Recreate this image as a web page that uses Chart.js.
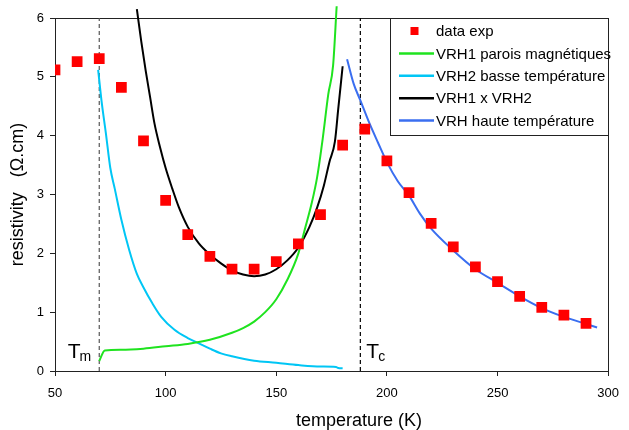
<!DOCTYPE html>
<html>
<head>
<meta charset="utf-8">
<script src="https://cdn.jsdelivr.net/npm/chart.js@4"></script>
<style>
  body { margin: 0; background: #fff; }
</style>
</head>
<body>
<canvas id="resistivityChart" width="629" height="430"></canvas>
<script>
// experimental points (red squares)
const expTemps = [50, 60, 70, 80, 90, 100, 110, 120, 130, 140, 150, 160, 170, 180, 190, 200, 210, 220, 230, 240, 250, 260, 270, 280, 290];
const expRho = [5.12, 5.26, 5.31, 4.82, 3.91, 2.9, 2.32, 1.95, 1.73, 1.73, 1.86, 2.16, 2.66, 3.84, 4.11, 3.57, 3.03, 2.51, 2.11, 1.77, 1.52, 1.27, 1.08, 0.95, 0.81];

// VRH1 parois magnétiques
const wallTemps = [70, 72.5, 80, 90, 100, 110, 120, 130, 135, 140, 145, 150, 155, 160, 163, 166, 168.5, 171, 173.5, 175.7, 177.3];
const wallRho = [0.17, 0.35, 0.36, 0.38, 0.42, 0.46, 0.53, 0.65, 0.73, 0.84, 1.0, 1.22, 1.55, 2.0, 2.42, 2.85, 3.3, 3.95, 4.7, 5.2, 6.2];

// VRH2 basse température
const lowTemps = [69.5, 71, 73, 75, 77, 80, 83.5, 87, 90, 94, 98, 104, 110, 115, 120, 125, 130, 140, 150, 160, 170, 177, 178, 180];
const lowRho = [5.12, 4.6, 4.04, 3.45, 3.1, 2.57, 2.06, 1.65, 1.42, 1.15, 0.92, 0.7, 0.56, 0.47, 0.38, 0.3, 0.25, 0.175, 0.14, 0.1, 0.075, 0.07, 0.05, 0.045];

// VRH1 x VRH2
const prodTemps = [87, 89, 91, 93, 95, 97.5, 100, 103, 106, 110, 115, 120, 125, 130, 135, 140, 145, 150, 155, 160, 165, 168.5, 171.5, 174, 176.5, 178, 180];
const prodRho = [6.15, 5.6, 5.1, 4.65, 4.2, 3.8, 3.45, 3.1, 2.78, 2.45, 2.17, 1.98, 1.83, 1.71, 1.64, 1.61, 1.64, 1.73, 1.88, 2.1, 2.45, 2.78, 3.15, 3.55, 3.9, 4.45, 5.18];

// VRH haute température
const highTemps = [182, 185, 188, 192, 196, 200, 205, 210, 215, 220, 230, 240, 250, 260, 270, 280, 290, 295];
const highRho = [5.3, 4.88, 4.6, 4.22, 3.88, 3.55, 3.22, 2.98, 2.67, 2.42, 2.05, 1.73, 1.5, 1.27, 1.07, 0.92, 0.8, 0.74];

// transition temperatures
const transTemps = [70, 188];
const transSubs = ["m", "c"];

const FONT = "'Liberation Sans', Arial, sans-serif";

function pts(xs, ys) {
    return xs.map((x, i) => ({ x: x, y: ys[i] }));
}

function curve(label, xs, ys, color) {
    return {
        label: label,
        data: pts(xs, ys),
        showLine: true,
        borderColor: color,
        backgroundColor: color,
        borderWidth: 2,
        pointRadius: 0,
        cubicInterpolationMode: "monotone",
        clip: false
    };
}

function dashed(t, color) {
    return {
        label: "",
        data: [{ x: t, y: 0 }, { x: t, y: 6 }],
        showLine: true,
        borderColor: color,
        borderWidth: 1.2,
        borderDash: [4, 3],
        pointRadius: 0,
        inLegend: false
    };
}

// plot frame, T labels, x title and boxed legend
const decorations = {
    id: "decorations",
    beforeDatasetsDraw(chart) {
        const ctx = chart.ctx;
        const a = chart.chartArea;
        ctx.save();
        ctx.strokeStyle = "#222";
        ctx.lineWidth = 1;
        ctx.strokeRect(Math.round(a.left) + 0.5, Math.round(a.top) + 0.5,
            Math.round(a.right - a.left), Math.round(a.bottom - a.top));
        ctx.restore();
    },
    afterDraw(chart) {
        const ctx = chart.ctx;
        const a = chart.chartArea;
        const xs = chart.scales.x;
        ctx.save();
        ctx.fillStyle = "#000";
        ctx.textBaseline = "alphabetic";

        // T_m / T_c
        transTemps.forEach((t, i) => {
            const px = xs.getPixelForValue(t);
            const base = a.bottom - 13;
            if (i === 0) {
                ctx.font = "14px " + FONT;
                const sw = ctx.measureText(transSubs[i]).width;
                ctx.textAlign = "right";
                ctx.fillText(transSubs[i], px - 8, base + 3);
                ctx.font = "21px " + FONT;
                ctx.fillText("T", px - 8 - sw + 1, base);
            } else {
                ctx.font = "21px " + FONT;
                ctx.textAlign = "left";
                const tw = ctx.measureText("T").width;
                ctx.fillText("T", px + 6, base);
                ctx.font = "14px " + FONT;
                ctx.fillText(transSubs[i], px + 6 + tw - 1, base + 3);
            }
        });

        // x axis title
        ctx.font = "18px " + FONT;
        ctx.textAlign = "center";
        ctx.textBaseline = "middle";
        ctx.fillText("temperature (K)", 359, 421);

        // legend box
        const left = 390, top = a.top, w = a.right - left, h = 117;
        ctx.fillStyle = "#fff";
        ctx.fillRect(left, top, w, h);
        ctx.strokeStyle = "#222";
        ctx.lineWidth = 1;
        ctx.strokeRect(left + 0.5, Math.round(top) + 0.5, Math.round(w), h);

        const items = chart.data.datasets.filter(d => d.inLegend !== false);
        ctx.font = "15px " + FONT;
        ctx.textAlign = "left";
        items.forEach((d, i) => {
            const y = top + 13 + i * 22.4;
            if (d.showLine) {
                ctx.strokeStyle = d.borderColor;
                ctx.lineWidth = 2.5;
                ctx.beginPath();
                ctx.moveTo(399, y);
                ctx.lineTo(434, y);
                ctx.stroke();
            } else {
                ctx.fillStyle = d.backgroundColor;
                ctx.fillRect(410.5, y - 4, 8, 8);
            }
            ctx.fillStyle = "#000";
            ctx.fillText(d.label, 436, y + 1);
        });
        ctx.restore();
    }
};

new Chart(document.getElementById("resistivityChart"), {
    type: "scatter",
    data: {
        datasets: [
            {
                label: "data exp",
                data: pts(expTemps, expRho),
                pointStyle: "rect",
                pointRadius: 7.6,
                pointBorderWidth: 0,
                backgroundColor: "#ff0000",
                borderColor: "#ff0000",
                showLine: false
            },
            curve("VRH1 parois magnétiques", wallTemps, wallRho, "#1fe31f"),
            curve("VRH2 basse température", lowTemps, lowRho, "#00c6f5"),
            curve("VRH1 x VRH2", prodTemps, prodRho, "#000000"),
            curve("VRH haute température", highTemps, highRho, "#3a6ef0"),
            dashed(transTemps[0], "#555"),
            dashed(transTemps[1], "#000")
        ]
    },
    options: {
        responsive: false,
        animation: false,
        layout: { padding: { top: 18, right: 14, left: 0, bottom: 0 } },
        plugins: {
            legend: { display: false },
            tooltip: { enabled: false }
        },
        scales: {
            x: {
                type: "linear",
                min: 50,
                max: 300,
                ticks: { stepSize: 50, color: "#000", padding: 10, font: { family: FONT, size: 13 } },
                grid: { drawOnChartArea: false, tickLength: 5, color: "#222" },
                border: { color: "#222" },
                afterFit(scale) { scale.height = 59; }
            },
            y: {
                type: "linear",
                min: 0,
                max: 6,
                ticks: { stepSize: 1, color: "#000", padding: 6, font: { family: FONT, size: 13 } },
                grid: { drawOnChartArea: false, tickLength: 5, color: "#222" },
                border: { color: "#222" },
                title: {
                    display: true,
                    text: "resistivity   (Ω.cm)",
                    color: "#000",
                    font: { family: FONT, size: 18 },
                    padding: { top: 7, bottom: 0 }
                },
                afterFit(scale) { scale.width = 55; }
            }
        }
    },
    plugins: [decorations]
});
</script>
</body>
</html>
